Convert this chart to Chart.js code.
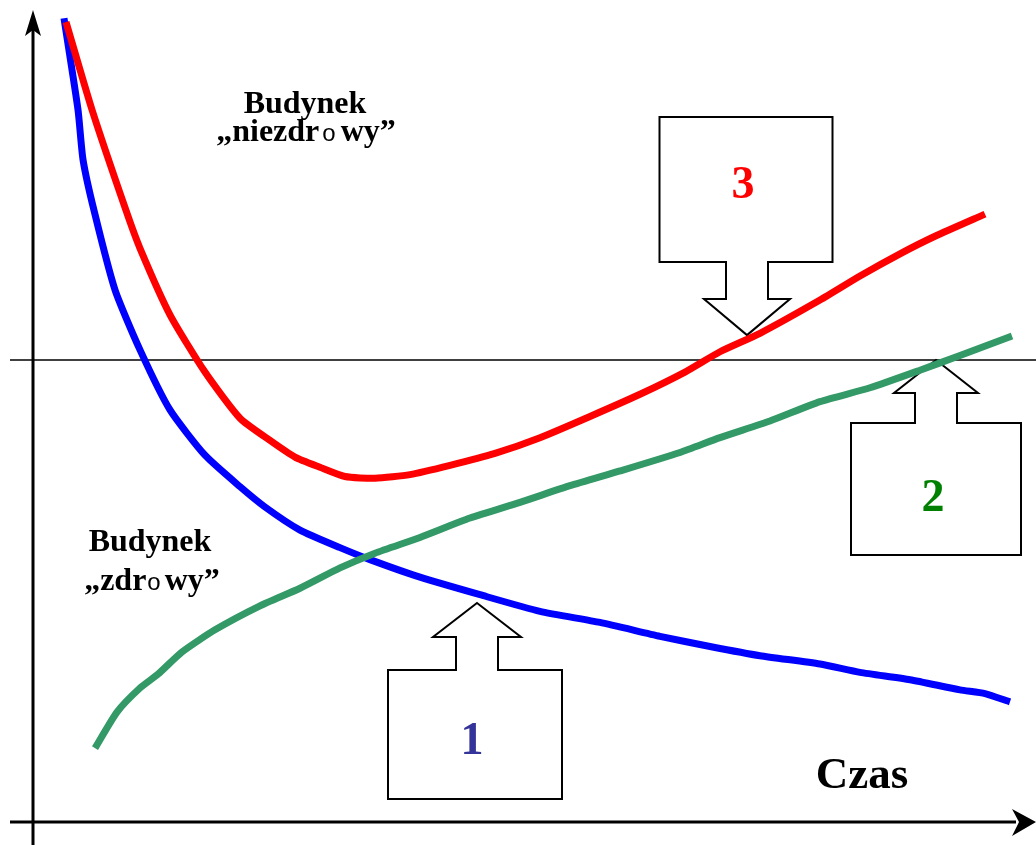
<!DOCTYPE html>
<html>
<head>
<meta charset="utf-8">
<script src="https://cdn.jsdelivr.net/npm/chart.js@4"></script>
<style>
  html, body { margin: 0; padding: 0; background: #fff; }
  #wrap { width: 1036px; height: 845px; }
</style>
</head>
<body>
<div id="wrap"><canvas id="chart" width="1036" height="845"></canvas></div>
<script>
// Time axis 0..100, value axis 0..88, threshold level at 50
const threshold = 50;

const blueX = [3.1, 4.5, 5.0, 6.1, 8.2, 10.7, 13.7, 17.2, 20.7, 23.2, 26.7, 30.7, 33.7, 38.7, 44.7, 50.7, 56.7, 62.7, 67.7, 72.7, 78.7, 82.7, 87.7, 92.7, 95.2, 97.7];
const blueY = [87.0, 77.1, 71.7, 66.2, 57.6, 51.1, 44.6, 39.7, 36.3, 34.1, 31.6, 29.7, 28.4, 26.5, 24.6, 22.8, 21.6, 20.1, 19.0, 18.0, 17.1, 16.2, 15.4, 14.3, 13.9, 13.0];

const redX = [3.3, 5.9, 9.3, 10.7, 13.7, 17.2, 20.7, 23.7, 26.2, 28.7, 31.2, 34.2, 37.7, 41.7, 46.2, 50.7, 55.7, 60.7, 65.2, 68.7, 72.7, 78.7, 82.7, 86.7, 90.2, 95.2];
const redY = [86.6, 77.1, 66.2, 62.1, 54.9, 48.7, 43.7, 41.3, 39.5, 38.4, 37.4, 37.2, 37.6, 38.6, 39.9, 41.6, 43.9, 46.3, 48.7, 50.9, 52.9, 56.5, 59.1, 61.5, 63.4, 65.8];

const greenX = [6.2, 8.4, 10.7, 12.5, 14.9, 18.2, 22.7, 26.7, 30.7, 34.2, 38.7, 43.7, 48.7, 53.7, 58.7, 64.7, 68.7, 73.7, 78.7, 83.7, 88.7, 92.7, 97.9];
const greenY = [8.0, 11.9, 14.5, 16.0, 18.4, 20.8, 23.4, 25.3, 27.5, 29.1, 30.8, 32.9, 34.6, 36.4, 38.0, 40.0, 41.6, 43.4, 45.5, 47.0, 48.9, 50.5, 52.6];

// callout labels and the points their arrows touch
const calloutLabels = ['1', '2', '3'];
const calloutTipX = [44.4, 90.3, 71.4];
const calloutTipY = [23.7, threshold, 52.7];

function toPoints(xs, ys) {
    return xs.map((x, i) => ({ x: x, y: ys[i] }));
}

const SERIF = '"Liberation Serif", "Times New Roman", Times, serif';
const SANS = '"Liberation Sans", Arial, sans-serif';

const calloutStyle = [
    { dir: 'up', color: '#333399', headH: 34, headW: 44, stemW: 21, stemH: 33, boxDx: -2, boxW: 174, boxH: 129, labelDy: 8 },
    { dir: 'up', color: '#008000', headH: 33, headW: 42, stemW: 21, stemH: 30, boxDx: 0, boxW: 170, boxH: 132, labelDy: 10 },
    { dir: 'down', color: '#ff0000', headH: 36, headW: 43, stemW: 21, stemH: 37, boxDx: -1, boxW: 173, boxH: 145, labelDy: -4 }
];

function drawCallout(ctx, tx, ty, s, label) {
    const d = s.dir === 'up' ? 1 : -1;
    const headY = ty + d * s.headH;
    const boxY = headY + d * s.stemH;
    const endY = boxY + d * s.boxH;
    const cx = tx + s.boxDx;
    ctx.beginPath();
    ctx.moveTo(tx, ty);
    ctx.lineTo(tx + s.headW, headY);
    ctx.lineTo(tx + s.stemW, headY);
    ctx.lineTo(tx + s.stemW, boxY);
    ctx.lineTo(cx + s.boxW / 2, boxY);
    ctx.lineTo(cx + s.boxW / 2, endY);
    ctx.lineTo(cx - s.boxW / 2, endY);
    ctx.lineTo(cx - s.boxW / 2, boxY);
    ctx.lineTo(tx - s.stemW, boxY);
    ctx.lineTo(tx - s.stemW, headY);
    ctx.lineTo(tx - s.headW, headY);
    ctx.closePath();
    ctx.fillStyle = '#fff';
    ctx.fill();
    ctx.strokeStyle = '#000';
    ctx.lineWidth = 2;
    ctx.lineJoin = 'miter';
    ctx.stroke();

    ctx.fillStyle = s.color;
    ctx.font = 'bold 46px ' + SERIF;
    ctx.textAlign = 'center';
    ctx.textBaseline = 'middle';
    ctx.fillText(label, cx - 3, (boxY + endY) / 2 + s.labelDy);
}

// draw text pieces in a row, centred on cx
function drawPieces(ctx, pieces, cx, baseline) {
    ctx.save();
    ctx.textBaseline = 'alphabetic';
    ctx.textAlign = 'left';
    let total = 0;
    pieces.forEach(p => { ctx.font = p.font; p.w = ctx.measureText(p.text).width; total += p.w + (p.gap || 0); });
    let x = cx - total / 2;
    pieces.forEach(p => {
        ctx.font = p.font;
        ctx.fillStyle = '#000';
        ctx.fillText(p.text, x, baseline);
        x += p.w + (p.gap || 0);
    });
    ctx.restore();
}

const bold32 = 'bold 32px ' + SERIF;
const sans24 = '24px ' + SANS;

const decorations = {
    id: 'decorations',
    beforeDatasetsDraw(chart) {
        const ctx = chart.ctx;
        const xs = chart.scales.x, ys = chart.scales.y;
        const x0 = xs.getPixelForValue(0);
        const y0 = ys.getPixelForValue(0);
        const yT = ys.getPixelForValue(threshold);
        const W = chart.width, H = chart.height;
        ctx.save();
        ctx.strokeStyle = '#000';
        ctx.fillStyle = '#000';

        // threshold line
        ctx.lineWidth = 1.5;
        ctx.beginPath();
        ctx.moveTo(10, yT);
        ctx.lineTo(W, yT);
        ctx.stroke();

        // axes
        ctx.lineWidth = 3;
        ctx.beginPath();
        ctx.moveTo(x0, H);
        ctx.lineTo(x0, 28);
        ctx.moveTo(10, y0);
        ctx.lineTo(W - 20, y0);
        ctx.stroke();

        // arrowheads
        ctx.beginPath();
        ctx.moveTo(x0, 10);
        ctx.lineTo(x0 + 8, 36);
        ctx.lineTo(x0, 30);
        ctx.lineTo(x0 - 8, 36);
        ctx.closePath();
        ctx.fill();
        ctx.beginPath();
        ctx.moveTo(W, y0);
        ctx.lineTo(W - 24, y0 - 13);
        ctx.lineTo(W - 17, y0);
        ctx.lineTo(W - 24, y0 + 14);
        ctx.closePath();
        ctx.fill();

        // callouts
        calloutLabels.forEach((label, i) => {
            drawCallout(ctx, xs.getPixelForValue(calloutTipX[i]), ys.getPixelForValue(calloutTipY[i]), calloutStyle[i], label);
        });

        // labels
        drawPieces(ctx, [{ text: 'Budynek', font: bold32 }], 305, 113);
        drawPieces(ctx, [
            { text: '„niezdr', font: bold32, gap: 3 },
            { text: 'o', font: sans24, gap: 5 },
            { text: 'wy”', font: bold32 }
        ], 306, 141);
        drawPieces(ctx, [{ text: 'Budynek', font: bold32 }], 150, 551);
        drawPieces(ctx, [
            { text: '„zdr', font: bold32, gap: 1 },
            { text: 'o', font: sans24, gap: 4 },
            { text: 'wy”', font: bold32 }
        ], 152, 590);
        drawPieces(ctx, [{ text: 'Czas', font: 'bold 45px ' + SERIF }], 862, 788);

        ctx.restore();
    }
};

new Chart(document.getElementById('chart'), {
    type: 'line',
    data: {
        datasets: [
            { label: 'Budynek zdrowy', data: toPoints(greenX, greenY), borderColor: '#339966' },
            { label: 'Budynek niezdrowy', data: toPoints(redX, redY), borderColor: '#ff0000' },
            { label: 'Seria 1', data: toPoints(blueX, blueY), borderColor: '#0000ff' }
        ]
    },
    options: {
        responsive: false,
        animation: false,
        devicePixelRatio: 1,
        layout: { padding: { left: 33, right: 3, top: 9, bottom: 23 } },
        elements: {
            line: { borderWidth: 7, tension: 0.2, fill: false, borderCapStyle: 'butt' },
            point: { radius: 0 }
        },
        plugins: {
            legend: { display: false },
            tooltip: { enabled: false }
        },
        scales: {
            x: { type: 'linear', min: 0, max: 100, display: false },
            y: { type: 'linear', min: 0, max: 88, display: false }
        }
    },
    plugins: [decorations]
});
</script>
</body>
</html>
